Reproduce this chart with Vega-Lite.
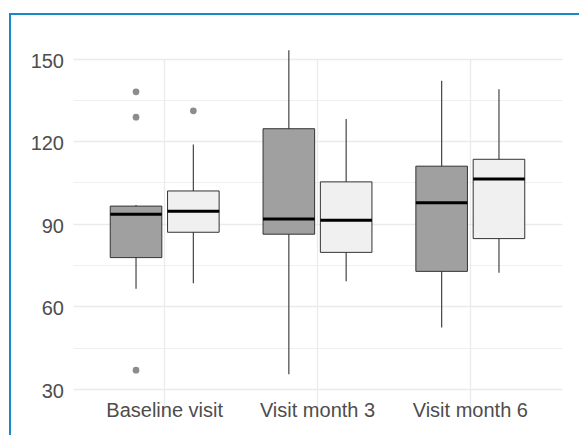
{
  "$schema": "https://vega.github.io/schema/vega-lite/v6.json",
  "autosize": {"type": "none"},
  "padding": {"left": 10, "top": 14, "right": 0, "bottom": 0},
  "width": 569,
  "height": 421,
  "background": "white",
  "view": {"stroke": "#1B87C6", "strokeWidth": 2, "strokeDash": [569, 990, 421], "fill": "white"},
  "datasets": {
    "boxes": [
      {"visit": "Baseline visit", "group": "Group A", "lower": 66.4, "q1": 77.7, "median": 93.4, "q3": 96.4, "upper": 96.8},
      {"visit": "Baseline visit", "group": "Group B", "lower": 68.4, "q1": 86.9, "median": 94.5, "q3": 101.9, "upper": 118.8},
      {"visit": "Visit month 3", "group": "Group A", "lower": 35.3, "q1": 86.2, "median": 91.7, "q3": 124.5, "upper": 153.0},
      {"visit": "Visit month 3", "group": "Group B", "lower": 69.1, "q1": 79.6, "median": 91.3, "q3": 105.2, "upper": 128.0},
      {"visit": "Visit month 6", "group": "Group A", "lower": 52.3, "q1": 72.7, "median": 97.6, "q3": 110.9, "upper": 141.9},
      {"visit": "Visit month 6", "group": "Group B", "lower": 72.2, "q1": 84.6, "median": 106.2, "q3": 113.4, "upper": 138.8}
    ],
    "outliers": [
      {"visit": "Baseline visit", "group": "Group A", "value": 137.9},
      {"visit": "Baseline visit", "group": "Group A", "value": 128.7},
      {"visit": "Baseline visit", "group": "Group A", "value": 36.8},
      {"visit": "Baseline visit", "group": "Group B", "value": 131.0}
    ]
  },
  "encoding": {
    "x": {
      "field": "visit",
      "type": "nominal",
      "sort": ["Baseline visit", "Visit month 3", "Visit month 6"],
      "scale": {"range": [63, 552], "paddingInner": 0, "paddingOuter": 0.1},
      "axis": {
        "title": null,
        "orient": "bottom",
        "offset": -44.4,
        "domain": false,
        "ticks": false,
        "tickSize": 0,
        "bandPosition": 0.5,
        "grid": true,
        "gridColor": "#EBEBEB",
        "gridWidth": 1.3,
        "labelAngle": 0,
        "labelFont": "Liberation Sans",
        "labelFontSize": 20,
        "labelColor": "#4D4D4D",
        "labelPadding": 9.5,
        "labelBaseline": "top"
      }
    },
    "xOffset": {
      "field": "group",
      "type": "nominal",
      "scale": {"domain": ["Group A", "Group B"], "paddingInner": 0.1, "paddingOuter": 0.383}
    }
  },
  "layer": [
    {
      "data": {"name": "boxes"},
      "mark": {"type": "rule", "color": "#444444", "strokeWidth": 1.2},
      "encoding": {
        "y": {
          "field": "lower",
          "type": "quantitative",
          "scale": {"domain": [29.4, 158.9], "range": [376.6, 20], "nice": false, "zero": false},
          "axis": {
            "title": null,
            "orient": "left",
            "offset": -63,
            "domain": false,
            "ticks": false,
            "tickSize": 0,
            "values": [30, 45, 60, 75, 90, 105, 120, 135, 150],
            "labelExpr": "datum.value % 30 === 0 ? datum.label : ''",
            "labelOverlap": false,
            "labelFlush": false,
            "grid": true,
            "gridColor": "#EBEBEB",
            "gridWidth": {"condition": {"test": "datum.value % 30 === 0", "value": 1.3}, "value": 0.8},
            "labelFont": "Liberation Sans",
            "labelFontSize": 20,
            "labelColor": "#4D4D4D",
            "labelPadding": 9.5,
            "labelOffset": 2.5
          }
        },
        "y2": {"field": "upper"}
      }
    },
    {
      "data": {"name": "boxes"},
      "mark": {"type": "bar", "stroke": "#333333", "strokeWidth": 1},
      "encoding": {
        "y": {"field": "q1", "type": "quantitative"},
        "y2": {"field": "q3"},
        "fill": {
          "field": "group",
          "type": "nominal",
          "scale": {"domain": ["Group A", "Group B"], "range": ["#A0A0A0", "#F0F0F0"]},
          "legend": null
        }
      }
    },
    {
      "data": {"name": "boxes"},
      "mark": {"type": "tick", "orient": "horizontal", "color": "#000000", "thickness": 3, "size": 51.6, "opacity": 1},
      "encoding": {
        "y": {"field": "median", "type": "quantitative"}
      }
    },
    {
      "data": {"name": "outliers"},
      "mark": {"type": "circle", "color": "#8C8C8C", "opacity": 1, "size": 45},
      "encoding": {
        "y": {"field": "value", "type": "quantitative"}
      }
    }
  ]
}
